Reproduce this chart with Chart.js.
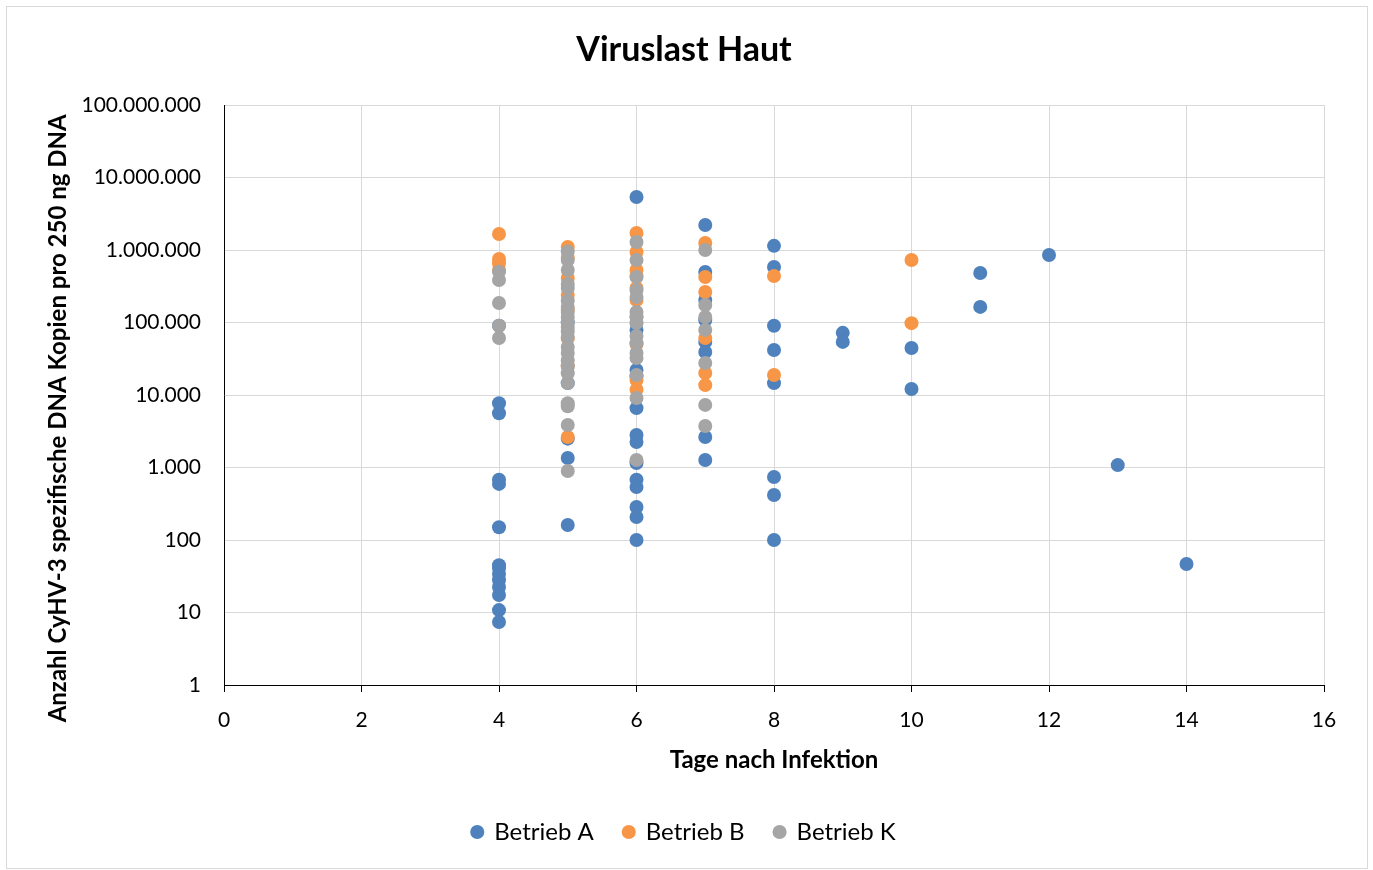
<!DOCTYPE html>
<html>
<head>
<meta charset="utf-8">
<script src="https://cdn.jsdelivr.net/npm/chart.js@4"></script>
<style>
  html, body { margin: 0; padding: 0; background: #fff; }
  #wrap { position: relative; width: 1373px; height: 870px; }
  #frame { position: absolute; left: 6px; top: 6px; width: 1360px; height: 861px; border: 1px solid #d9d9d9; pointer-events: none; }
  canvas { position: absolute; left: 0; top: 0; }
</style>
</head>
<body>
<div id="wrap">
  <canvas id="c" width="1373" height="870"></canvas>
  <div id="frame"></div>
</div>
<script>
// ---- Data ----
const seriesNames = ['Betrieb A', 'Betrieb B', 'Betrieb K'];

const aDays = [4,4,4,4,4,4,4,4,4,4,4,4,4,4,
  5,5,5,5,5,
  6,6,6,6,6,6,6,6,6,6,6,6,6,
  7,7,7,7,7,7,7,7,
  8,8,8,8,8,8,8,8,
  9,9,10,10,11,11,12,13,14];
const aValues = [90000,7700,5600,680,594,150,41,34,28,22.5,17.4,10.8,7.4,45,
  100000,14600,2500,1350,161,
  5380000,79000,22100,18000,6600,2810,2250,1150,680,538,285,208,100,
  2210000,497000,204000,108000,54000,39200,2640,1270,
  1140000,583000,90000,41800,14600,740,418,100,
  72000,54000,44500,12100,482000,164000,853000,1080,46.7];

const bDays = [4,4,4,4,
  5,5,5,5,5,5,5,5,
  6,6,6,6,6,6,6,6,6,6,
  7,7,7,7,7,7,
  8,8,
  10,10];
const bValues = [1660000,750000,650000,530000,
  1100000,780000,411000,240000,150000,60000,25000,2640,
  1720000,938000,530000,440000,300000,204000,120000,50000,16100,11800,
  1250000,424000,264000,61000,20100,13700,
  438000,18900,
  728000,98000];

const kDays = [4,4,4,4,4,
  5,5,5,5,5,5,5,5,5,5,5,5,5,5,5,5,5,5,5,5,5,5,5,
  6,6,6,6,6,6,6,6,6,6,6,6,6,6,6,
  7,7,7,7,7,7,7];
const kValues = [500000,386000,186000,90000,61000,
  950000,728000,530000,340000,299000,200000,164000,140000,119000,100000,87000,75000,63000,46000,38000,30000,25000,20000,14600,7700,7000,3860,895,
  1290000,728000,424000,281000,225000,140000,119000,98000,65000,52000,37900,32400,18900,9100,1270,
  1000000,174000,119000,79000,27600,7300,3740];

const yTickValues = [1,10,100,1000,10000,100000,1000000,10000000,100000000];
const yTickLabels = ['1','10','100','1.000','10.000','100.000','1.000.000','10.000.000','100.000.000'];
const xTickValues = [0,2,4,6,8,10,12,14,16];

const colors = ['#4f81bd', '#f79646', '#a5a5a5'];

function pts(days, vals) { return days.map((d, i) => ({ x: d, y: vals[i] })); }

const FONT = 'Lato, Carlito, Calibri, "Open Sans", sans-serif';

new Chart(document.getElementById('c'), {
  type: 'scatter',
  data: {
    datasets: [
      { label: seriesNames[0], data: pts(aDays, aValues), backgroundColor: colors[0], borderColor: colors[0], order: 3 },
      { label: seriesNames[1], data: pts(bDays, bValues), backgroundColor: colors[1], borderColor: colors[1], order: 2 },
      { label: seriesNames[2], data: pts(kDays, kValues), backgroundColor: colors[2], borderColor: colors[2], order: 1 }
    ]
  },
  options: {
    responsive: false,
    animation: false,
    layout: { padding: { left: 44, right: 49, top: 0, bottom: 16 } },
    elements: { point: { radius: 7, borderWidth: 0, pointStyle: 'circle', hoverRadius: 7 } },
    plugins: {
      title: {
        display: true,
        text: 'Viruslast Haut',
        color: '#000',
        font: { family: FONT, size: 34, weight: 'bold', lineHeight: 1.2 },
        padding: { top: 30, bottom: 34.2 }
      },
      legend: {
        display: true,
        position: 'bottom',
        reverse: true,
        labels: {
          usePointStyle: true,
          pointStyle: 'circle',
          boxHeight: 10,
          boxWidth: 10,
          padding: 30,
          color: '#000',
          font: { family: FONT, size: 24 }
        }
      },
      tooltip: { enabled: false }
    },
    scales: {
      x: {
        type: 'linear',
        min: 0, max: 16,
        afterBuildTicks: (s) => { s.ticks = xTickValues.map(v => ({ value: v })); },
        afterFit: (s) => { s.height = 105; },
        ticks: { color: '#000', padding: 16, font: { family: FONT, size: 21 } },
        grid: { color: '#d9d9d9', lineWidth: 1, tickColor: '#000', tickLength: 7, drawTicks: true },
        border: { color: '#000', width: 1 },
        title: {
          display: true,
          text: 'Tage nach Infektion',
          color: '#000',
          font: { family: FONT, size: 24, weight: 'bold', lineHeight: 1.2 },
          padding: { top: 0, bottom: 15 }
        }
      },
      y: {
        type: 'logarithmic',
        min: 1, max: 100000000,
        afterBuildTicks: (s) => { s.ticks = yTickValues.map(v => ({ value: v })); },
        afterFit: (s) => { s.width = 180; },
        ticks: {
          color: '#000', padding: 23,
          font: { family: FONT, size: 21 },
          callback: (v) => { const i = yTickValues.indexOf(v); return i >= 0 ? yTickLabels[i] : ''; }
        },
        grid: { color: '#d9d9d9', lineWidth: 1, drawTicks: false },
        border: { color: '#000', width: 1 },
        title: {
          display: true,
          text: 'Anzahl CyHV-3 spezifische DNA Kopien pro 250 ng DNA        ',
          color: '#000',
          font: { family: FONT, size: 24, weight: 'bold', lineHeight: 1.2 },
          padding: { top: 0, bottom: 0 }
        }
      }
    }
  }
});
</script>
</body>
</html>
